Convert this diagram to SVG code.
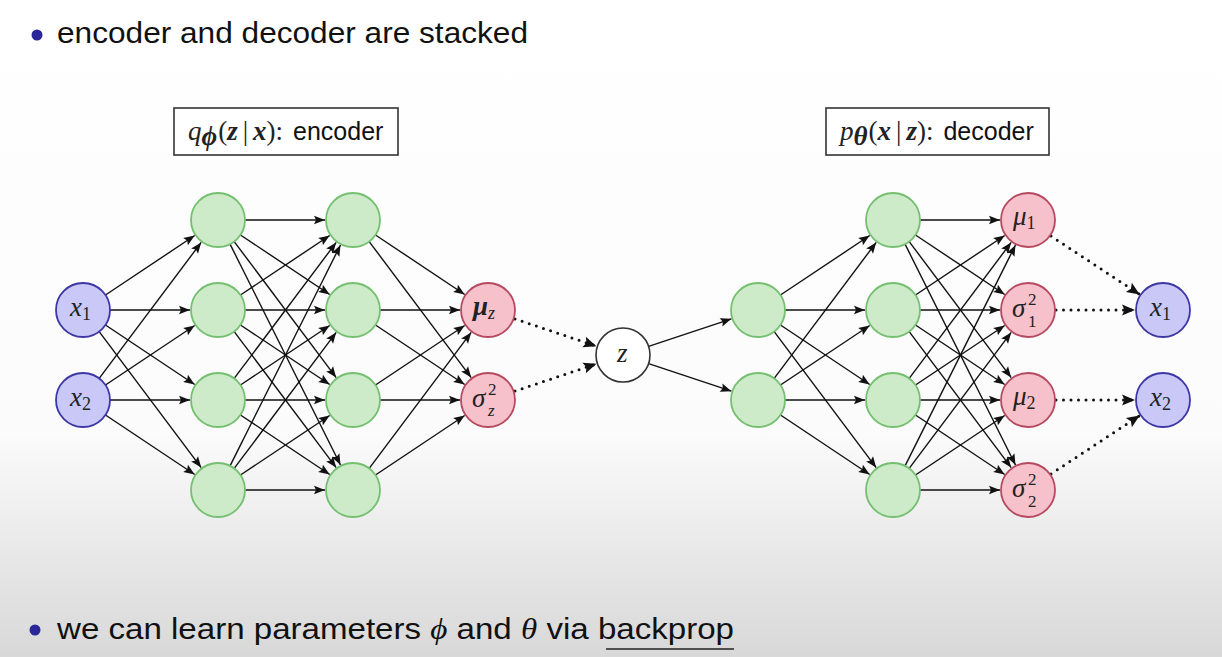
<svg xmlns="http://www.w3.org/2000/svg" width="1222" height="657" viewBox="0 0 1222 657">
<defs>
<linearGradient id="bg" x1="0" y1="0" x2="0" y2="657" gradientUnits="userSpaceOnUse">
<stop offset="0" stop-color="#ffffff"/>
<stop offset="0.66" stop-color="#fbfbfb"/>
<stop offset="1" stop-color="#d8d8d8"/>
</linearGradient>
<marker id="ah" markerUnits="userSpaceOnUse" markerWidth="14" markerHeight="12" refX="0" refY="0" orient="auto" overflow="visible">
<path d="M0,0 L-11,-4.3 L-9,0 L-11,4.3 Z" fill="#111"/>
</marker>
<marker id="ahd" markerUnits="userSpaceOnUse" markerWidth="16" markerHeight="14" refX="0" refY="0" orient="auto" overflow="visible">
<path d="M0,0 L-13,-5.5 L-10.5,0 L-13,5.5 Z" fill="#111"/>
</marker>
<style>
.c{stroke:#111;stroke-width:1.4;fill:none;marker-end:url(#ah)}
.d{stroke:#111;stroke-width:3;fill:none;stroke-dasharray:0 7.5;stroke-linecap:round;marker-end:url(#ahd)}
.blue{fill:#c9c8f6;stroke:#3d37a6;stroke-width:1.8}
.green{fill:#cdebc9;stroke:#74bf70;stroke-width:1.8}
.red{fill:#f6c1ca;stroke:#b5495f;stroke-width:1.8}
.white{fill:#ffffff;stroke:#333;stroke-width:1.6}
.m{font-family:"Liberation Serif","DejaVu Serif",serif;font-style:italic;font-size:27px;fill:#222}
.s{font-size:18px;font-style:normal}
.si{font-size:18px;font-style:italic}
.ss{font-family:"Liberation Serif","DejaVu Serif",serif;font-size:17px;fill:#222}
.up{font-family:"Liberation Serif","DejaVu Serif",serif;font-style:normal;font-size:27px;fill:#222}
.sans{font-family:"Liberation Sans","DejaVu Sans",sans-serif;fill:#111}
.box{fill:#ffffff;stroke:#333;stroke-width:1.6}
</style>
</defs>
<rect x="0" y="0" width="1222" height="657" fill="url(#bg)"/>

<g id="title">
<circle cx="37" cy="35" r="5.5" fill="#2a2898"/>
<text class="sans" x="57" y="43" font-size="29" textLength="471" lengthAdjust="spacingAndGlyphs">encoder and decoder are stacked</text>
</g>

<g id="encoder-label">
<rect class="box" x="174" y="108" width="224" height="47"/>
<text x="188" y="140"><tspan class="m">q</tspan><tspan class="m" font-size="17" font-weight="bold" dy="5">ϕ</tspan><tspan class="up" dy="-5" dx="1">(</tspan><tspan class="m" font-weight="bold">z</tspan><tspan class="up" dx="5">|</tspan><tspan class="m" font-weight="bold" dx="5">x</tspan><tspan class="up">):</tspan><tspan class="sans" font-size="25" dx="10">encoder</tspan></text>
</g>

<g id="decoder-label">
<rect class="box" x="826" y="108" width="223" height="47"/>
<text x="840" y="140"><tspan class="m">p</tspan><tspan class="m" font-size="17" font-weight="bold" dy="5">θ</tspan><tspan class="up" dy="-5" dx="1">(</tspan><tspan class="m" font-weight="bold">x</tspan><tspan class="up" dx="5">|</tspan><tspan class="m" font-weight="bold" dx="5">z</tspan><tspan class="up">):</tspan><tspan class="sans" font-size="25" dx="10">decoder</tspan></text>
</g>

<g id="connectors">
<!-- X -> H1 -->
<line class="c" x1="105.47" y1="295.02" x2="194.70" y2="235.53"/>
<line class="c" x1="110" y1="310" x2="190" y2="310"/>
<line class="c" x1="105.47" y1="324.98" x2="194.70" y2="384.47"/>
<line class="c" x1="99.2" y1="331.6" x2="201.2" y2="467.6"/>
<line class="c" x1="99.2" y1="378.4" x2="201.2" y2="242.4"/>
<line class="c" x1="105.47" y1="385.02" x2="194.70" y2="325.53"/>
<line class="c" x1="110" y1="400" x2="190" y2="400"/>
<line class="c" x1="105.47" y1="414.98" x2="194.70" y2="474.47"/>
<!-- H1 -> H2 -->
<line class="c" x1="245" y1="220" x2="325" y2="220"/>
<line class="c" x1="240.47" y1="234.98" x2="329.70" y2="294.47"/>
<line class="c" x1="234.2" y1="241.6" x2="336.2" y2="377.6"/>
<line class="c" x1="230.07" y1="244.15" x2="340.48" y2="464.96"/>
<line class="c" x1="240.47" y1="295.02" x2="329.70" y2="235.53"/>
<line class="c" x1="245" y1="310" x2="325" y2="310"/>
<line class="c" x1="240.47" y1="324.98" x2="329.70" y2="384.47"/>
<line class="c" x1="234.2" y1="331.6" x2="336.2" y2="467.6"/>
<line class="c" x1="234.2" y1="378.4" x2="336.2" y2="242.4"/>
<line class="c" x1="240.47" y1="385.02" x2="329.70" y2="325.53"/>
<line class="c" x1="245" y1="400" x2="325" y2="400"/>
<line class="c" x1="240.47" y1="414.98" x2="329.70" y2="474.47"/>
<line class="c" x1="230.07" y1="465.85" x2="340.48" y2="245.04"/>
<line class="c" x1="234.2" y1="468.4" x2="336.2" y2="332.4"/>
<line class="c" x1="240.47" y1="475.02" x2="329.70" y2="415.53"/>
<line class="c" x1="245" y1="490" x2="325" y2="490"/>
<!-- H2 -> mu/sigma -->
<line class="c" x1="375.47" y1="234.98" x2="464.70" y2="294.47"/>
<line class="c" x1="369.2" y1="241.6" x2="471.2" y2="377.6"/>
<line class="c" x1="380" y1="310" x2="460" y2="310"/>
<line class="c" x1="375.47" y1="324.98" x2="464.70" y2="384.47"/>
<line class="c" x1="375.47" y1="385.02" x2="464.70" y2="325.53"/>
<line class="c" x1="380" y1="400" x2="460" y2="400"/>
<line class="c" x1="369.2" y1="468.4" x2="471.2" y2="332.4"/>
<line class="c" x1="375.47" y1="475.02" x2="464.70" y2="415.53"/>
<!-- mu/sigma -> z (dotted) -->
<line class="d" x1="515" y1="319" x2="596.44" y2="346.15"/>
<line class="d" x1="515" y1="391" x2="596.44" y2="363.85"/>
<!-- z -> D1 -->
<line class="c" x1="648.61" y1="346.46" x2="731.44" y2="318.85"/>
<line class="c" x1="648.61" y1="363.54" x2="731.44" y2="391.15"/>
<!-- D1 -> D2 -->
<line class="c" x1="780.47" y1="295.02" x2="869.70" y2="235.53"/>
<line class="c" x1="785" y1="310" x2="865" y2="310"/>
<line class="c" x1="780.47" y1="324.98" x2="869.70" y2="384.47"/>
<line class="c" x1="774.2" y1="331.6" x2="876.2" y2="467.6"/>
<line class="c" x1="774.2" y1="378.4" x2="876.2" y2="242.4"/>
<line class="c" x1="780.47" y1="385.02" x2="869.70" y2="325.53"/>
<line class="c" x1="785" y1="400" x2="865" y2="400"/>
<line class="c" x1="780.47" y1="414.98" x2="869.70" y2="474.47"/>
<!-- D2 -> outputs -->
<line class="c" x1="920" y1="220" x2="1000" y2="220"/>
<line class="c" x1="915.47" y1="234.98" x2="1004.70" y2="294.47"/>
<line class="c" x1="909.2" y1="241.6" x2="1011.2" y2="377.6"/>
<line class="c" x1="905.07" y1="244.15" x2="1015.48" y2="464.96"/>
<line class="c" x1="915.47" y1="295.02" x2="1004.70" y2="235.53"/>
<line class="c" x1="920" y1="310" x2="1000" y2="310"/>
<line class="c" x1="915.47" y1="324.98" x2="1004.70" y2="384.47"/>
<line class="c" x1="909.2" y1="331.6" x2="1011.2" y2="467.6"/>
<line class="c" x1="909.2" y1="378.4" x2="1011.2" y2="242.4"/>
<line class="c" x1="915.47" y1="385.02" x2="1004.70" y2="325.53"/>
<line class="c" x1="920" y1="400" x2="1000" y2="400"/>
<line class="c" x1="915.47" y1="414.98" x2="1004.70" y2="474.47"/>
<line class="c" x1="905.07" y1="465.85" x2="1015.48" y2="245.04"/>
<line class="c" x1="909.2" y1="468.4" x2="1011.2" y2="332.4"/>
<line class="c" x1="915.47" y1="475.02" x2="1004.70" y2="415.53"/>
<line class="c" x1="920" y1="490" x2="1000" y2="490"/>
<!-- outputs -> x (dotted) -->
<line class="d" x1="1051" y1="236" x2="1139.70" y2="294.47"/>
<line class="d" x1="1056" y1="310" x2="1135" y2="310"/>
<line class="d" x1="1056" y1="400" x2="1135" y2="400"/>
<line class="d" x1="1051" y1="474" x2="1139.70" y2="415.53"/>
</g>

<g id="enc-x1"><circle class="blue" cx="83" cy="310" r="27"/><text class="m" x="70" y="316">x<tspan class="s" dy="4">1</tspan></text></g>
<g id="enc-x2"><circle class="blue" cx="83" cy="400" r="27"/><text class="m" x="70" y="406">x<tspan class="s" dy="4">2</tspan></text></g>

<g id="enc-h1-1"><circle class="green" cx="218" cy="220" r="27"/></g>
<g id="enc-h1-2"><circle class="green" cx="218" cy="310" r="27"/></g>
<g id="enc-h1-3"><circle class="green" cx="218" cy="400" r="27"/></g>
<g id="enc-h1-4"><circle class="green" cx="218" cy="490" r="27"/></g>

<g id="enc-h2-1"><circle class="green" cx="353" cy="220" r="27"/></g>
<g id="enc-h2-2"><circle class="green" cx="353" cy="310" r="27"/></g>
<g id="enc-h2-3"><circle class="green" cx="353" cy="400" r="27"/></g>
<g id="enc-h2-4"><circle class="green" cx="353" cy="490" r="27"/></g>

<g id="mu-z"><circle class="red" cx="488" cy="310" r="27"/><text class="m" x="473" y="315" font-weight="bold">μ<tspan class="si" font-weight="normal" dy="4">z</tspan></text></g>
<g id="sigma-z"><circle class="red" cx="488" cy="400" r="27"/><text class="m" x="472" y="407">σ</text><text class="ss" x="488" y="395">2</text><text class="ss" x="488" y="416" font-style="italic">z</text></g>

<g id="z"><circle class="white" cx="623" cy="355" r="27"/><text class="m" x="617" y="362">z</text></g>

<g id="dec-h1-1"><circle class="green" cx="758" cy="310" r="27"/></g>
<g id="dec-h1-2"><circle class="green" cx="758" cy="400" r="27"/></g>

<g id="dec-h2-1"><circle class="green" cx="893" cy="220" r="27"/></g>
<g id="dec-h2-2"><circle class="green" cx="893" cy="310" r="27"/></g>
<g id="dec-h2-3"><circle class="green" cx="893" cy="400" r="27"/></g>
<g id="dec-h2-4"><circle class="green" cx="893" cy="490" r="27"/></g>

<g id="mu-1"><circle class="red" cx="1028" cy="220" r="27"/><text class="m" x="1013" y="225">μ<tspan class="s" dy="4">1</tspan></text></g>
<g id="sigma-1"><circle class="red" cx="1028" cy="310" r="27"/><text class="m" x="1012" y="317">σ</text><text class="ss" x="1028" y="305">2</text><text class="ss" x="1028" y="327">1</text></g>
<g id="mu-2"><circle class="red" cx="1028" cy="400" r="27"/><text class="m" x="1013" y="405">μ<tspan class="s" dy="4">2</tspan></text></g>
<g id="sigma-2"><circle class="red" cx="1028" cy="490" r="27"/><text class="m" x="1012" y="497">σ</text><text class="ss" x="1028" y="485">2</text><text class="ss" x="1028" y="507">2</text></g>

<g id="dec-x1"><circle class="blue" cx="1163" cy="310" r="27"/><text class="m" x="1150" y="316">x<tspan class="s" dy="4">1</tspan></text></g>
<g id="dec-x2"><circle class="blue" cx="1163" cy="400" r="27"/><text class="m" x="1150" y="406">x<tspan class="s" dy="4">2</tspan></text></g>

<g id="footer">
<circle cx="35" cy="630" r="5.5" fill="#2a2898"/>
<text class="sans" x="57" y="639" font-size="30" textLength="677" lengthAdjust="spacingAndGlyphs">we can learn parameters <tspan font-family="Liberation Serif,serif" font-style="italic">ϕ</tspan> and <tspan font-family="Liberation Serif,serif" font-style="italic">θ</tspan> via backprop</text>
<line x1="606" y1="649" x2="734" y2="649" stroke="#222" stroke-width="1.6"/>
</g>
</svg>
